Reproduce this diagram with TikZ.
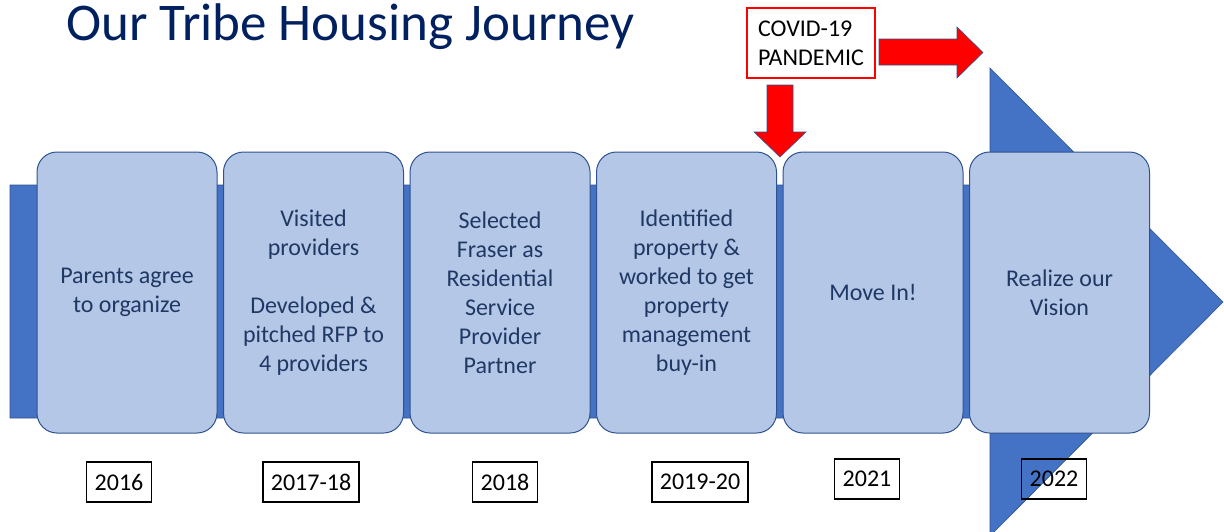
\documentclass[tikz,border=0pt]{standalone}
\usepackage{fontspec}
\setmainfont{Carlito}
\usetikzlibrary{positioning}
\definecolor{bandblue}{HTML}{4472C4}
\definecolor{boxblue}{HTML}{B4C7E7}
\definecolor{edgeblue}{HTML}{2F528F}
\definecolor{textblue}{HTML}{1F3864}
\definecolor{titleblue}{HTML}{002060}

\begin{document}
\begin{tikzpicture}[x=1pt,y=-1pt,
    stage/.style={rectangle,rounded corners=20pt,draw=edgeblue,line width=1pt,
      fill=boxblue,minimum width=180pt,minimum height=281pt,align=center,
      text=textblue,font=\fontsize{24}{29}\selectfont},
    year/.style={rectangle,draw=black,line width=1.5pt,minimum height=40pt,
      inner xsep=8pt,font=\fontsize{24}{28}\selectfont},
    redarrow/.style={fill=red,draw=edgeblue,line width=.6pt}]
  \clip (0,0) rectangle (1224,531);
  \node[anchor=base west,inner sep=0pt,text=titleblue,
    font=\fontsize{53}{60}\selectfont] (title) at (66,40)
    {Our Tribe Housing Journey};
  % big arrow behind the stages
  \draw[fill=bandblue,draw=edgeblue,line width=.6pt] (10,185) -- (990,185)
    -- (990,68) -- (1223,302) -- (990,536) -- (990,418) -- (10,418) -- cycle;
  \node[stage] (s1) at (127,292.5) {Parents agree\\to organize};
  \node[stage,right=5.5pt of s1] (s2) {Visited\\providers\\[29pt]Developed \&\\
    pitched RFP to\\4 providers};
  \node[stage,right=5.5pt of s2] (s3) {Selected\\Fraser as\\Residential\\Service\\
    Provider\\Partner};
  \node[stage,right=5.5pt of s3] (s4) {Identified\\property \&\\worked to get\\
    property\\management\\buy-in};
  \node[stage,right=5.5pt of s4] (s5) {Move In!};
  \node[stage,right=5.5pt of s5] (s6) {Realize our\\Vision};
  % years
  \node[year,fill=white] (y1) at (119,482) {2016};
  \node[year,fill=white] (y2) at (311,482) {2017-18};
  \node[year,fill=white] (y3) at (505,482) {2018};
  \node[year,fill=white] (y4) at (700,482) {2019-20};
  \node[year,fill=white] (y5) at (867,479) {2021};
  \node[year] (y6) at (1054,479) {2022};
  % covid
  \node[draw=red,line width=2.5pt,fill=white,align=left,minimum width=128pt,
    minimum height=70pt,font=\fontsize{24}{29}\selectfont] (covid) at (811,43)
    {COVID-19\\PANDEMIC};
  \draw[redarrow] (879,39) -- (957,39) -- (957,27) -- (983,52.5) -- (957,78)
    -- (957,65) -- (879,65) -- cycle;
  \draw[redarrow] (767,85) -- (793,85) -- (793,132) -- (806,132) -- (780,157)
    -- (754,132) -- (767,132) -- cycle;
\end{tikzpicture}
\end{document}
